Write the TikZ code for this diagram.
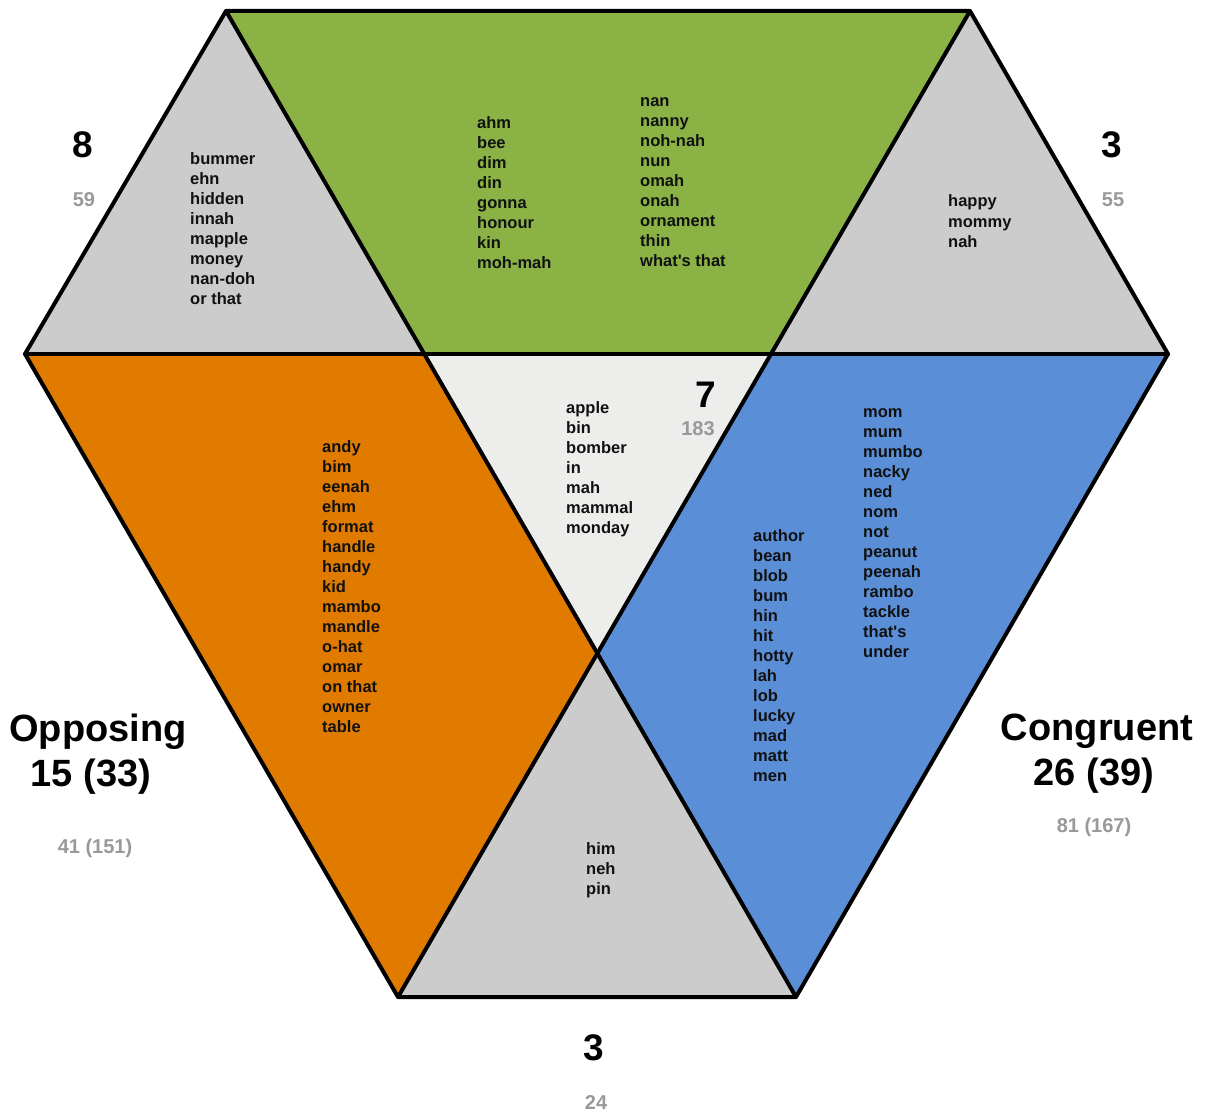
\documentclass[tikz,border=0pt]{standalone}
\usepackage{fontspec}
\setmainfont{Liberation Sans}
\definecolor{lgray}{HTML}{CCCCCC}
\definecolor{cgreen}{HTML}{8AB245}
\definecolor{corange}{HTML}{E17B00}
\definecolor{cblue}{HTML}{5A8FD8}
\definecolor{ccentre}{HTML}{EDEDEB}
\definecolor{numgray}{HTML}{999999}
\definecolor{ink}{HTML}{111111}
\begin{document}
\begin{tikzpicture}[x=1pt,y=-1pt,
  words/.style={font=\fontsize{16.5}{20}\selectfont\bfseries, text=ink, align=left, anchor=base west, inner sep=0pt},
  bignum/.style={font=\fontsize{37}{45}\selectfont\bfseries, inner sep=0pt},
  biglabel/.style={font=\fontsize{38}{45}\selectfont\bfseries, inner sep=0pt, anchor=base},
  smallnum/.style={font=\fontsize{20}{22}\selectfont\bfseries, text=numgray, inner sep=0pt},
  edge/.style={line width=4pt, line join=round, line cap=round}]
\useasboundingbox (0,0) rectangle (1208,1113);
\fill[white] (0,0) rectangle (1208,1113);

% hexagon corners and inner crossing points
\coordinate (TL) at (226,11);
\coordinate (TR) at (970,11);
\coordinate (R)  at (1168,354);
\coordinate (BR) at (796,997);
\coordinate (BL) at (398,997);
\coordinate (L)  at (25,354);
\coordinate (IL) at (425,354);
\coordinate (IR) at (771,354);
\coordinate (IB) at (597,655);

% regions
\fill[lgray]   (TL) -- (IL) -- (L) -- cycle;
\fill[cgreen]  (TL) -- (TR) -- (IR) -- (IL) -- cycle;
\fill[lgray]   (TR) -- (R) -- (IR) -- cycle;
\fill[corange] (L) -- (IL) -- (IB) -- (BL) -- cycle;
\fill[ccentre] (IL) -- (IR) -- (IB) -- cycle;
\fill[cblue]   (IR) -- (R) -- (BR) -- (IB) -- cycle;
\fill[lgray]   (IB) -- (BR) -- (BL) -- cycle;

% outline and the three crossing lines
\draw[edge] (TL) -- (TR) -- (R) -- (BR) -- (BL) -- (L) -- cycle;
\draw[edge] (L) -- (R);
\draw[edge] (TL) -- (BR);
\draw[edge] (TR) -- (BL);

% word lists (anchored at the baseline of the last line)
\node[words] (wTL) at (190,304) {bummer\\ehn\\hidden\\innah\\mapple\\money\\nan-doh\\or that};
\node[words] (wG1) at (477,268) {ahm\\bee\\dim\\din\\gonna\\honour\\kin\\moh-mah};
\node[words] (wG2) at (640,266) {nan\\nanny\\noh-nah\\nun\\omah\\onah\\ornament\\thin\\what\textquotesingle s that};
\node[words] (wTR) at (948,247) {happy\\mommy\\nah};
\node[words] (wC)  at (566,533) {apple\\bin\\bomber\\in\\mah\\mammal\\monday};
\node[words] (wO)  at (322,732) {andy\\bim\\eenah\\ehm\\format\\handle\\handy\\kid\\mambo\\mandle\\o-hat\\omar\\on that\\owner\\table};
\node[words] (wB1) at (753,781) {author\\bean\\blob\\bum\\hin\\hit\\hotty\\lah\\lob\\lucky\\mad\\matt\\men};
\node[words] (wB2) at (863,657) {mom\\mum\\mumbo\\nacky\\ned\\nom\\not\\peanut\\peenah\\rambo\\tackle\\that\textquotesingle s\\under};
\node[words] (wBot) at (586,894) {him\\neh\\pin};

% counts
\node[bignum]   (nTL) at (83,145) {8};
\node[smallnum] (sTL) at (84,200) {59};
\node[bignum]   (nTR) at (1112,145) {3};
\node[smallnum] (sTR) at (1113,200) {55};
\node[bignum]   (nC)  at (706,395) {7};
\node[smallnum] (sC)  at (698,429) {183};
\node[bignum]   (nB)  at (594,1048) {3};
\node[smallnum] (sB)  at (596,1103) {24};

% group totals
\node[biglabel] (opp)  at (98,741) {Opposing};
\node[biglabel] (oppN) at (91,786) {15 (33)};
\node[smallnum] (sOpp) at (95,848) {41 (151)};
\node[biglabel] (con)  at (1097,740) {Congruent};
\node[biglabel] (conN) at (1094,785) {26 (39)};
\node[smallnum] (sCon) at (1094,827) {81 (167)};
\end{tikzpicture}
\end{document}
